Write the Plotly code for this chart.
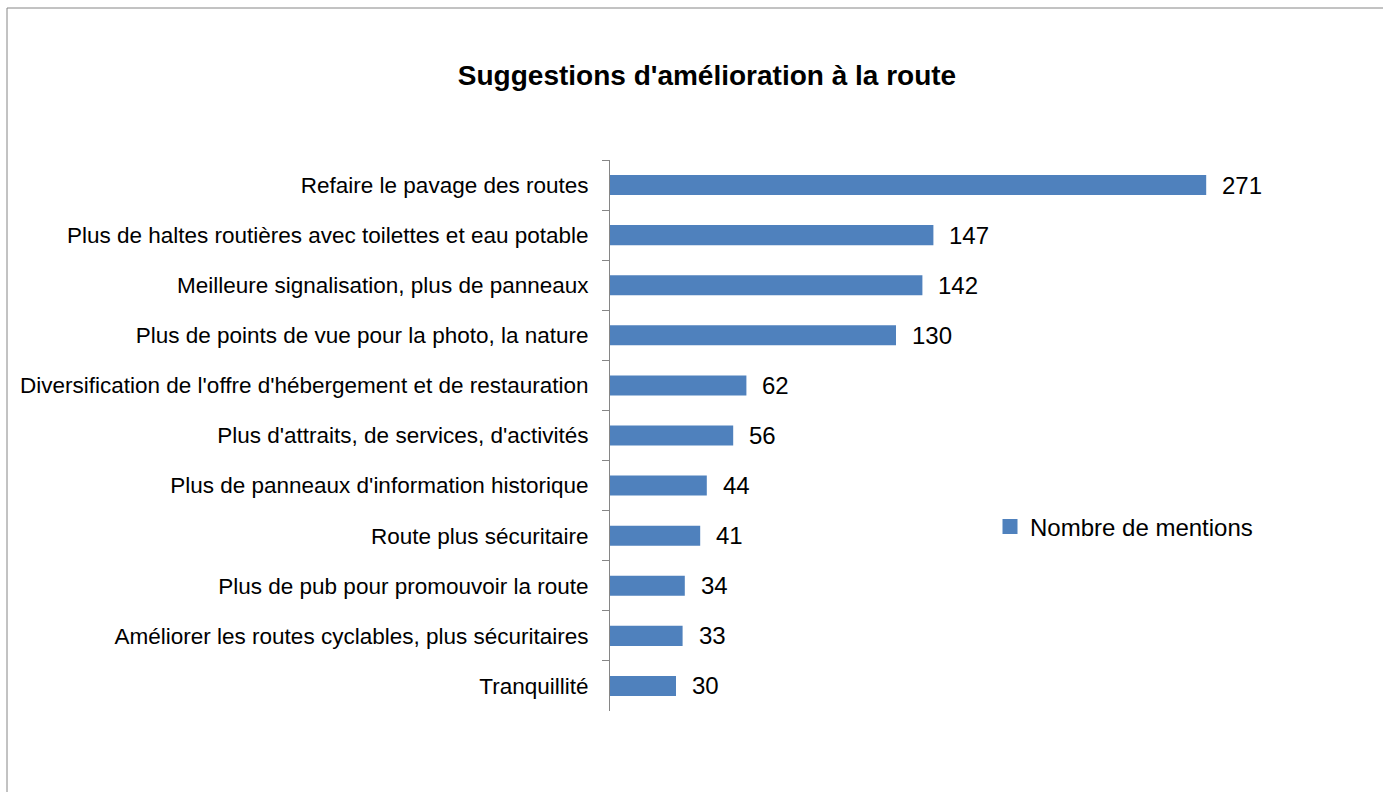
import plotly.graph_objects as go

categories = [
    "Refaire le pavage des routes",
    "Plus de haltes routières avec toilettes et eau potable",
    "Meilleure signalisation, plus de panneaux",
    "Plus de points de vue pour la photo, la nature",
    "Diversification de l'offre d'hébergement et de restauration",
    "Plus d'attraits, de services, d'activités",
    "Plus de panneaux d'information historique",
    "Route plus sécuritaire",
    "Plus de pub pour promouvoir la route",
    "Améliorer les routes cyclables, plus sécuritaires",
    "Tranquillité",
]
mentions = [271, 147, 142, 130, 62, 56, 44, 41, 34, 33, 30]

FONT = "Liberation Sans"
BLUE = "#4F81BD"
GREY = "#868686"

W, H = 1383, 792
L, R, T, B = 610, 113, 160, 81
pw, ph = W - L - R, H - T - B

def px_x(p):
    return (p - L) / pw

def px_y(p):
    return (H - B - p) / ph

fig = go.Figure()
fig.add_trace(go.Bar(
    x=mentions, y=categories, orientation="h",
    marker=dict(color=BLUE, line=dict(width=0)),
    width=0.4, showlegend=False,
))
# legend entry with an Excel-like square key
fig.add_trace(go.Scatter(
    x=[None], y=[None], mode="markers", name="Nombre de mentions",
    marker=dict(symbol="square", size=15, color=BLUE),
))

for c, v in zip(categories, mentions):
    fig.add_annotation(x=v, y=c, text=str(v), showarrow=False,
                       xanchor="left", xshift=14,
                       font=dict(family=FONT, size=24, color="black"))

# chart border (Excel chart area)
fig.add_shape(type="rect", xref="paper", yref="paper",
              x0=px_x(7), y0=px_y(8), x1=px_x(1400), y1=px_y(820),
              line=dict(color=GREY, width=1))

fig.update_layout(
    width=W, height=H,
    margin=dict(l=L, r=R, t=T, b=B),
    paper_bgcolor="white", plot_bgcolor="white",
    title=dict(text="<b>Suggestions d'amélioration à la route</b>",
               x=px_x(707), xanchor="center", xref="paper",
               y=1 - 75 / H, yanchor="middle",
               font=dict(family=FONT, size=28, color="black")),
    font=dict(family=FONT, size=22.5, color="black"),
    showlegend=True,
    legend=dict(x=px_x(990), y=px_y(527), xanchor="left", yanchor="middle",
                font=dict(family=FONT, size=24, color="black"),
                itemwidth=30),
)
fig.update_xaxes(range=[0, 300], visible=False, showgrid=False)
fig.update_yaxes(autorange="reversed", showline=True, linecolor=GREY, linewidth=1,
                 ticks="outside", tickson="boundaries", ticklen=7, tickcolor=GREY,
                 ticklabelstandoff=16, showgrid=False,
                 tickfont=dict(family=FONT, size=22.5, color="black"))

fig.write_html("out.html", config={"displayModeBar": False},
               post_script="document.body.style.margin='0';")
